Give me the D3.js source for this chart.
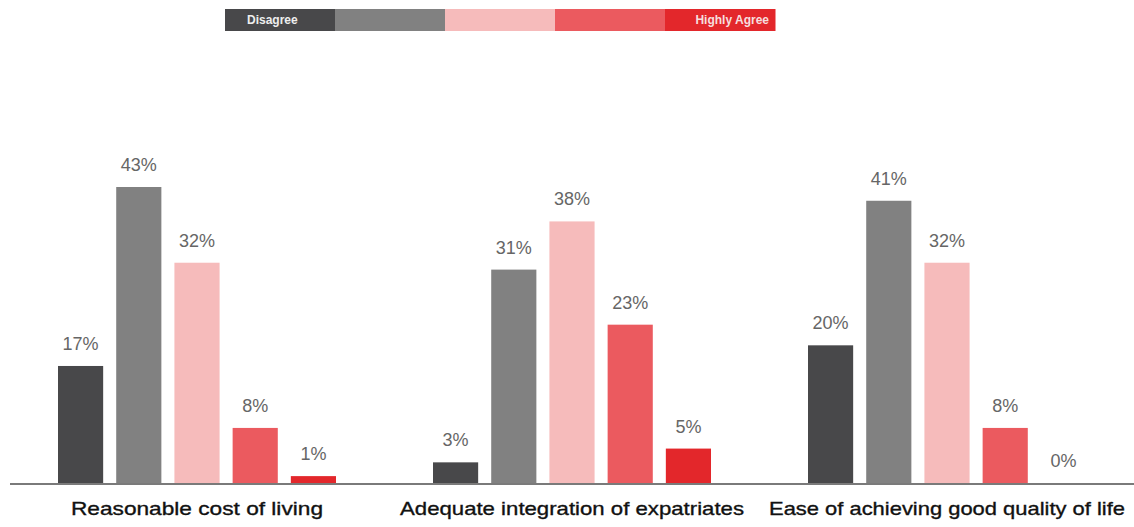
<!DOCTYPE html>
<html>
<head>
<meta charset="utf-8">
<script src="https://cdn.jsdelivr.net/npm/d3@7"></script>
<style>
  html, body { margin: 0; padding: 0; background: #ffffff; }
  svg { display: block; }
</style>
</head>
<body>
<svg id="chart" width="1134" height="527"></svg>
<script>
// ---- data ----
const categories = ["Reasonable cost of living", "Adequate integration of expatriates", "Ease of achieving good quality of life"];
const levels = ["L1", "L2", "L3", "L4", "L5"];
const legendLabels = ["Disagree", "", "", "", "Highly Agree"];
const level1 = [17, 3, 20];
const level2 = [43, 31, 41];
const level3 = [32, 38, 32];
const level4 = [8, 23, 8];
const level5 = [1, 5, 0];
const seriesValues = [level1, level2, level3, level4, level5];
const colors = ["#48484a", "#818181", "#f6bbbb", "#eb5a5f", "#e3272b"];
const labelWidths = [252, 344, 356];

const svg = d3.select("#chart");
const W = 1134, H = 527;

const baseY = 483;
const y = d3.scaleLinear().domain([0, 43]).range([baseY, 187]);

const x0 = d3.scaleBand().domain(categories).range([58, 1086]).paddingInner(97 / 375).paddingOuter(0);
const x1 = d3.scaleBand().domain(levels).range([0, x0.bandwidth()]).paddingInner(13 / 58).paddingOuter(0);

const rows = categories.map((c, i) => ({
  cat: c,
  vals: levels.map((l, j) => ({ level: l, j, v: seriesValues[j][i] }))
}));

const g = svg.selectAll("g.grp").data(rows).join("g")
  .attr("class", "grp")
  .attr("transform", d => `translate(${x0(d.cat)},0)`);

g.selectAll("rect").data(d => d.vals).join("rect")
  .attr("x", d => x1(d.level))
  .attr("width", x1.bandwidth())
  .attr("y", d => y(d.v))
  .attr("height", d => baseY - y(d.v))
  .attr("fill", d => colors[d.j]);

g.selectAll("text.val").data(d => d.vals).join("text")
  .attr("class", "val")
  .attr("x", d => x1(d.level) + x1.bandwidth() / 2)
  .attr("y", d => y(d.v) - 16)
  .attr("text-anchor", "middle")
  .attr("font-family", "Liberation Sans, Arial, sans-serif")
  .attr("font-size", 18)
  .attr("fill", "#666666")
  .text(d => d.v + "%");

// axis baseline
svg.append("line")
  .attr("x1", 10).attr("x2", W)
  .attr("y1", baseY + 1).attr("y2", baseY + 1)
  .attr("stroke", "#7a7a7a").attr("stroke-width", 2);

// category labels
svg.selectAll("text.cat").data(categories).join("text")
  .attr("class", "cat")
  .attr("x", d => x0(d) + x0.bandwidth() / 2)
  .attr("y", 515)
  .attr("text-anchor", "middle")
  .attr("font-family", "Liberation Sans, Arial, sans-serif")
  .attr("font-size", 19)
  .attr("fill", "#111111")
  .attr("stroke", "#111111")
  .attr("stroke-width", 0.35)
  .attr("textLength", (d, i) => labelWidths[i])
  .attr("lengthAdjust", "spacingAndGlyphs")
  .text(d => d);

// legend
const lx = d3.scaleBand().domain(levels).range([225, 775]).padding(0);
const lg = svg.append("g");
lg.selectAll("rect").data(levels).join("rect")
  .attr("x", d => lx(d))
  .attr("y", 9)
  .attr("width", lx.bandwidth() + 0.5)
  .attr("height", 22)
  .attr("fill", (d, i) => colors[i]);
lg.append("text")
  .attr("x", lx(levels[0]) + 22)
  .attr("y", 24)
  .attr("font-family", "Liberation Sans, Arial, sans-serif")
  .attr("font-size", 12)
  .attr("font-weight", "bold")
  .attr("fill", "#eeeeee")
  .text(legendLabels[0]);
lg.append("text")
  .attr("x", lx(levels[4]) + lx.bandwidth() - 6)
  .attr("y", 24)
  .attr("text-anchor", "end")
  .attr("font-family", "Liberation Sans, Arial, sans-serif")
  .attr("font-size", 12)
  .attr("font-weight", "bold")
  .attr("fill", "#f6dede")
  .text(legendLabels[4]);
</script>
</body>
</html>
